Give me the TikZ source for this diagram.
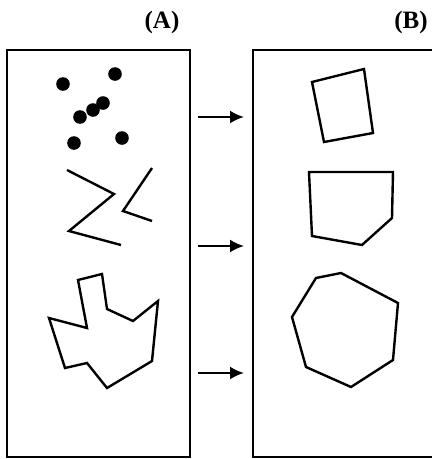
\documentclass[tikz,border=0pt]{standalone}
\usepackage{fontspec}
\setmainfont{Liberation Serif}
\usetikzlibrary{arrows.meta}
\tikzset{
    title/.style={font=\fontsize{25}{30}\selectfont\bfseries, inner sep=0pt},
    panel/.style={line width=2.6pt},
    outline/.style={line width=2.4pt, line join=miter},
    map/.style={line width=2.3pt, -{Latex[length=14pt,width=13pt]}},
}
\begin{document}
\begin{tikzpicture}[x=1pt,y=-1pt]
                \useasboundingbox (0,0) rectangle (432,459);
                % titles and panels
                \node[title] (titleA) at (162,22) {(A)};
                \node[title] (titleB) at (411,22) {(B)};
                \draw[panel] (7,50) rectangle (190,457);
                \draw[panel] (253,50) rectangle (445,457);
                % panel A
                \foreach \x/\y in {63/84, 115/74, 103/103, 93/110, 80/117, 74/143, 122/138}
                    \fill (\x,\y) circle (6.8);
                \draw[outline] (67,170) -- (114,194) -- (69,231) -- (121,245);
                \draw[outline] (152,168) -- (123,211) -- (152,221);
                \draw[outline] (78,280) -- (102,274) -- (107,309) -- (133,321) -- (158,301)
                    -- (152,361) -- (107,388) -- (87,363) -- (65,368) -- (49,318)
                    -- (87,328) -- cycle;
                % panel B
                \draw[outline] (312,82) -- (364,69) -- (373,133) -- (324,142) -- cycle;
                \draw[outline] (309,172) -- (393,172) -- (392,218) -- (362,245) -- (312,236) -- cycle;
                \draw[outline] (341,273) -- (398,303) -- (393,360) -- (351,387) -- (306,367)
                    -- (292,317) -- (316,278) -- cycle;
                % arrows
                \coordinate (s1) at (198,117);
                \coordinate (e1) at (244,117);
                \coordinate (s2) at (198,246);
                \coordinate (e2) at (244,246);
                \coordinate (s3) at (198,373);
                \coordinate (e3) at (244,373);
                \draw[map] (s1) -- (e1);
                \draw[map] (s2) -- (e2);
                \draw[map] (s3) -- (e3);
            \end{tikzpicture}
\end{document}
